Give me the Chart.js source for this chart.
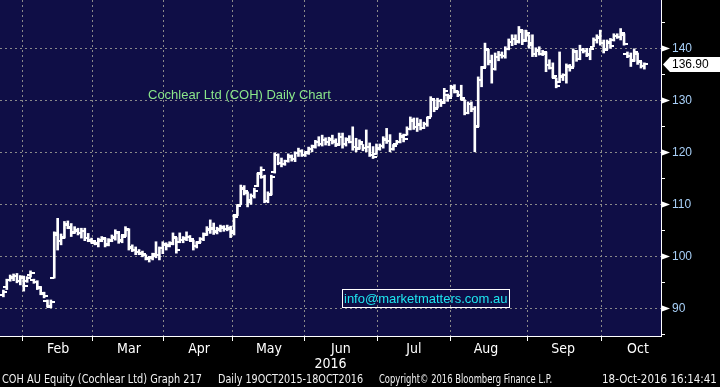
<!DOCTYPE html>
<html>
<head>
<meta charset="utf-8">
<title>Cochlear Ltd (COH) Daily Chart</title>
<script src="https://cdn.jsdelivr.net/npm/chart.js@4.4.1/dist/chart.umd.min.js"></script>
<style>
  body { margin: 0; background: #000; }
  #wrap { position: relative; width: 720px; height: 387px; overflow: hidden; font-family: "Liberation Sans", Arial, sans-serif; }
  #chart { position: absolute; left: 0; top: 0; }
  .note { position: absolute; white-space: nowrap; }
  #title { left: 148px; top: 88px; font-size: 13px; line-height: 13px; color: #8ae68a; }
  #email { left: 342px; top: 289px; width: 165px; height: 17px; border: 1px solid #fff; font-size: 13px; line-height: 17px; color: #1ee6f0; padding-left: 1px; }
  #footer span { position: absolute; top: 372px; font-family: "Liberation Sans Narrow", "DejaVu Sans Condensed", "Liberation Sans", sans-serif; font-size: 13px; line-height: 14px; color: #f2f2f2; white-space: nowrap; transform-origin: 0 50%; }
</style>
</head>
<body>
<div id="wrap">
  <canvas id="chart" width="720" height="387"></canvas>
  <div class="note" id="title">Cochlear Ltd (COH) Daily Chart</div>
  <div class="note" id="email">info@marketmatters.com.au</div>
  <div id="footer">
    <span style="left:2px" data-w="200">COH AU Equity (Cochlear Ltd) Graph 217</span>
    <span style="left:218px" data-w="145">Daily 19OCT2015-18OCT2016</span>
    <span style="left:379px" data-w="173">Copyright© 2016 Bloomberg Finance L.P.</span>
    <span style="left:602px" data-w="115">18-Oct-2016 16:14:41</span>
  </div>
</div>
<script>
// daily OHLC, one entry per trading day (late Jan 2016 - 18 Oct 2016)
const opens = [
  92.6, 94.0, 95.5, 95.8, 96.3, 95.2, 95.9, 95.2, 96.4, 95.5,
  95.0, 93.9, 92.8, 91.4, 90.3, 95.8, 104.0, 103.0, 103.8, 106.2,
  105.4, 104.6, 104.9, 104.5, 104.9, 103.6, 103.0, 102.6, 102.5, 103.0,
  103.3, 102.3, 103.0, 103.6, 104.5, 103.2, 104.0, 105.0, 101.8, 101.3,
  100.8, 100.6, 100.2, 99.5, 99.8, 100.1, 100.3, 101.5, 102.2, 102.1,
  102.5, 103.5, 102.7, 103.2, 103.4, 103.8, 102.9, 102.0, 102.8, 103.4,
  104.2, 105.0, 105.3, 104.8, 105.1, 105.5, 105.2, 105.3, 104.5, 108.0,
  109.9, 113.2, 112.2, 110.5, 111.5, 113.5, 116.0, 115.2, 110.6, 112.0,
  116.3, 119.5, 118.0, 117.8, 118.3, 119.0, 118.8, 119.8, 120.2, 119.5,
  120.0, 120.7, 121.0, 122.0, 121.5, 122.4, 122.0, 122.4, 122.0, 121.5,
  123.0, 121.6, 122.4, 122.0, 121.0, 120.8, 121.5, 120.8, 121.0, 119.5,
  119.6, 120.8, 121.2, 122.4, 122.2, 120.6, 121.6, 121.9, 123.0, 123.4,
  124.5, 126.0, 124.8, 125.3, 124.7, 125.4, 126.8, 130.0, 128.6, 129.8,
  129.6, 131.0, 130.8, 132.4, 131.6, 131.0, 130.1, 127.6, 129.2, 128.4,
  125.0, 134.0, 136.5, 139.6, 137.5, 136.0, 138.4, 138.8, 138.6, 139.8,
  141.2, 141.8, 141.4, 143.2, 141.6, 142.6, 141.0, 139.0, 139.5, 139.0,
  139.0, 136.8, 136.2, 134.3, 133.6, 134.4, 134.8, 136.4, 136.4, 139.2,
  138.0, 139.6, 139.4, 139.0, 140.3, 141.6, 142.0, 141.0, 139.8, 141.0,
  141.6, 142.3, 142.2, 142.6, 139.0, 138.5, 137.8, 139.0, 137.4, 136.6
];
const highs = [
  93.5, 95.6, 96.4, 96.6, 96.7, 96.3, 96.2, 96.1, 97.2, 95.6,
  95.3, 94.2, 93.1, 91.6, 91.6, 104.7, 107.3, 104.3, 106.7, 106.8,
  106.3, 105.7, 105.4, 105.4, 105.4, 104.4, 103.5, 102.8, 103.5, 103.8,
  103.5, 103.4, 104.1, 105.1, 104.8, 104.0, 105.7, 105.3, 102.2, 101.8,
  101.3, 101.0, 100.3, 100.0, 100.6, 102.8, 101.8, 102.8, 102.6, 102.8,
  104.5, 103.6, 104.5, 103.8, 104.7, 104.0, 103.1, 102.8, 103.6, 104.5,
  105.7, 107.0, 106.4, 105.6, 106.0, 105.9, 106.0, 105.8, 108.0, 109.9,
  113.7, 113.6, 112.4, 112.0, 113.1, 116.0, 117.2, 115.6, 112.4, 115.6,
  119.9, 119.7, 118.9, 118.5, 119.7, 119.5, 120.1, 120.8, 120.5, 120.1,
  121.0, 121.4, 122.3, 123.0, 123.3, 122.8, 122.9, 123.3, 122.6, 123.7,
  123.7, 122.8, 123.2, 124.9, 122.7, 122.4, 121.5, 124.3, 121.8, 121.1,
  121.6, 121.6, 123.0, 124.6, 123.4, 121.5, 122.3, 123.7, 123.5, 124.9,
  126.8, 126.6, 126.6, 126.3, 125.8, 126.8, 130.7, 130.1, 130.4, 130.2,
  132.3, 131.2, 132.9, 133.0, 131.8, 132.9, 130.1, 129.7, 129.7, 128.8,
  134.5, 136.5, 141.0, 139.8, 138.7, 139.1, 139.4, 139.3, 140.3, 141.8,
  142.6, 142.6, 144.2, 143.5, 143.5, 142.6, 142.6, 140.1, 140.3, 139.6,
  139.3, 137.8, 137.2, 134.3, 139.3, 135.1, 137.0, 136.9, 139.9, 139.6,
  140.6, 140.0, 140.0, 140.0, 142.0, 142.6, 143.5, 141.6, 141.6, 141.9,
  142.8, 142.8, 143.8, 142.8, 139.3, 139.1, 139.9, 139.1, 137.4, 137.2
];
const lows = [
  92.2, 93.6, 95.2, 95.3, 94.9, 94.5, 93.3, 95.0, 96.0, 94.8,
  93.6, 92.6, 92.0, 90.2, 90.1, 95.8, 101.2, 102.2, 103.5, 105.3,
  103.8, 104.4, 104.1, 103.5, 103.0, 102.8, 102.5, 102.2, 101.8, 102.8,
  101.8, 102.0, 102.8, 103.1, 102.5, 102.6, 103.8, 101.2, 100.9, 100.3,
  100.3, 99.9, 99.3, 98.9, 99.3, 99.7, 99.3, 100.5, 101.2, 101.8,
  102.2, 100.6, 102.6, 102.6, 103.0, 103.0, 101.2, 101.6, 102.6, 103.0,
  104.0, 104.4, 104.2, 104.3, 104.7, 104.8, 104.9, 103.6, 104.1, 107.8,
  109.9, 111.8, 109.5, 110.0, 111.2, 113.4, 115.0, 110.3, 110.3, 111.8,
  116.0, 117.6, 117.2, 117.5, 118.1, 118.3, 118.2, 119.2, 119.2, 119.2,
  119.6, 120.1, 120.8, 121.2, 121.2, 121.4, 121.3, 121.6, 121.1, 121.4,
  120.8, 121.2, 121.8, 120.4, 120.1, 120.6, 120.3, 120.1, 119.2, 118.8,
  119.6, 120.4, 120.8, 121.7, 120.1, 120.4, 121.5, 121.8, 122.0, 123.3,
  124.3, 124.4, 124.0, 124.3, 124.6, 125.0, 126.8, 127.8, 128.5, 128.8,
  129.4, 129.8, 130.7, 131.4, 130.7, 130.1, 127.2, 127.4, 127.8, 120.1,
  124.9, 132.6, 136.3, 136.8, 133.3, 135.8, 137.6, 138.1, 138.1, 139.7,
  140.5, 140.7, 141.0, 140.7, 141.3, 140.0, 138.4, 138.4, 138.7, 138.6,
  135.5, 136.0, 134.3, 132.4, 133.4, 133.8, 133.3, 135.6, 136.4, 137.5,
  137.8, 139.1, 138.4, 137.8, 140.3, 141.0, 140.6, 139.1, 139.8, 140.0,
  141.4, 141.9, 141.6, 140.6, 138.2, 136.5, 137.5, 136.9, 136.2, 136.0
];
const closes = [
  93.2, 95.4, 96.1, 96.2, 95.3, 96.0, 94.3, 95.8, 96.8, 95.0,
  94.0, 92.9, 92.3, 90.4, 91.2, 104.4, 102.9, 103.6, 106.0, 105.6,
  104.4, 105.0, 104.5, 104.8, 103.5, 103.2, 102.9, 102.4, 103.1, 103.5,
  102.2, 103.2, 103.8, 104.6, 103.0, 103.8, 105.2, 101.6, 101.2, 100.8,
  100.5, 100.4, 99.6, 99.7, 100.4, 100.2, 101.5, 102.3, 102.0, 102.4,
  103.8, 101.2, 103.2, 103.6, 103.8, 103.4, 101.9, 102.5, 103.3, 104.0,
  105.2, 105.5, 104.7, 105.2, 105.6, 105.2, 105.4, 104.8, 107.6, 109.6,
  113.0, 112.6, 110.8, 111.6, 112.6, 115.8, 116.5, 110.6, 111.8, 115.2,
  119.4, 118.0, 117.8, 118.3, 119.2, 118.7, 119.8, 120.2, 119.5, 119.9,
  120.7, 121.2, 122.0, 121.6, 122.4, 122.0, 122.5, 122.1, 121.4, 123.0,
  121.5, 122.5, 122.0, 121.0, 120.6, 122.0, 120.8, 121.0, 119.5, 119.0,
  120.6, 121.2, 122.5, 122.2, 120.6, 121.2, 122.0, 123.2, 122.6, 124.5,
  126.2, 124.8, 125.4, 124.7, 125.5, 126.5, 130.2, 128.4, 129.8, 129.5,
  131.8, 130.4, 132.5, 131.8, 131.0, 130.4, 127.6, 129.2, 128.4, 124.9,
  134.0, 136.2, 139.8, 137.4, 136.0, 138.4, 138.8, 138.6, 139.8, 141.3,
  141.8, 141.2, 143.5, 141.4, 143.0, 140.6, 139.0, 139.6, 139.0, 139.2,
  136.8, 136.3, 134.6, 132.8, 134.6, 134.8, 136.6, 136.2, 139.4, 138.0,
  139.7, 139.4, 138.8, 139.8, 141.6, 142.2, 141.0, 139.6, 141.3, 140.4,
  142.4, 142.2, 142.9, 140.9, 138.5, 137.6, 139.2, 137.5, 136.6, 136.9
];

// month boundaries in bar-index units, and the names shown after each one
const monthStarts = [5.5, 26.4, 47.1, 67.7, 88.9, 110.4, 131.7, 154.4, 176.5];
const monthNames = ['Feb', 'Mar', 'Apr', 'May', 'Jun', 'Jul', 'Aug', 'Sep', 'Oct'];
const priceTicks = [85, 90, 95, 100, 105, 110, 115, 120, 125, 130, 135, 140, 145];

const NAVY = '#0f0e46';
const GRID = '#8a8a8a';
const narrow = '"Liberation Sans Narrow", "DejaVu Sans Condensed", "Liberation Sans", sans-serif';

// squeeze the footer strings into the widths they take in the original
document.querySelectorAll('#footer span').forEach(s => {
    const w = s.getBoundingClientRect().width;
    const target = +s.dataset.w;
    if (w > 0) s.style.transform = 'scaleX(' + (target / w).toFixed(3) + ')';
});

// small open/close tick images, centred on the bar: left half or right half filled
function tickImage(side) {
    const c = document.createElement('canvas');
    c.width = 8;
    c.height = 2;
    const g = c.getContext('2d');
    g.fillStyle = '#fff';
    g.fillRect(side === 'left' ? 0 : 4, 0, 4, 2);
    return c;
}

const plotBackground = {
    id: 'plotBackground',
    beforeDraw(chart) {
        const {ctx, chartArea: a} = chart;
        ctx.save();
        ctx.fillStyle = NAVY;
        ctx.fillRect(a.left, a.top, a.right - a.left, a.bottom - a.top);
        ctx.restore();
    }
};

// arrow heads on the major price ticks plus the last-price tag
const axisMarks = {
    id: 'axisMarks',
    afterDraw(chart) {
        const {ctx, chartArea: a, scales: {y}} = chart;
        ctx.save();
        ctx.fillStyle = '#fff';
        priceTicks.filter(v => v % 10 === 0).forEach(v => {
            const py = Math.round(y.getPixelForValue(v)) + 0.5;
            ctx.beginPath();
            ctx.moveTo(a.right + 1, py - 3);
            ctx.lineTo(a.right + 9, py);
            ctx.lineTo(a.right + 1, py + 3);
            ctx.closePath();
            ctx.fill();
        });

        const last = closes[closes.length - 1];
        const py = y.getPixelForValue(last);
        ctx.beginPath();
        ctx.moveTo(a.right + 2, py);
        ctx.lineTo(a.right + 9, py - 7.5);
        ctx.lineTo(720, py - 7.5);
        ctx.lineTo(720, py + 7.5);
        ctx.lineTo(a.right + 9, py + 7.5);
        ctx.closePath();
        ctx.fill();
        ctx.fillStyle = '#000';
        ctx.font = '12px "Liberation Sans", Arial, sans-serif';
        ctx.textBaseline = 'middle';
        ctx.fillText(last.toFixed(2), a.right + 11, py + 0.5);
        ctx.restore();
    }
};

const chart = new Chart(document.getElementById('chart'), {
    type: 'bar',
    data: {
        datasets: [
            {
                type: 'bar',
                data: lows.map((l, i) => ({x: i, y: [l, highs[i]]})),
                backgroundColor: '#fff',
                borderWidth: 0,
                barThickness: 2,
                grouped: false
            },
            {
                type: 'scatter',
                data: opens.map((o, i) => ({x: i, y: o})),
                pointStyle: tickImage('left'),
                pointRadius: 3
            },
            {
                type: 'scatter',
                data: closes.map((c, i) => ({x: i, y: c})),
                pointStyle: tickImage('right'),
                pointRadius: 3
            }
        ]
    },
    options: {
        responsive: false,
        devicePixelRatio: 1,
        animation: false,
        events: [],
        layout: { padding: 0, autoPadding: false },
        plugins: {
            legend: { display: false },
            tooltip: { enabled: false }
        },
        scales: {
            x: {
                type: 'linear',
                position: 'bottom',
                min: -1,
                max: 193.9,
                offset: false,
                afterBuildTicks: s => { s.ticks = monthStarts.map(v => ({value: v})); },
                afterFit: s => {
                    s.height = 51;
                    s.paddingLeft = 0;
                    s.paddingRight = 0;
                },
                grid: {
                    offset: false,
                    color: GRID,
                    tickColor: '#fff',
                    tickLength: 5
                },
                border: { display: true, color: '#fff', width: 1, dash: [2, 3] },
                ticks: {
                    autoSkip: false,
                    maxRotation: 0,
                    padding: 0,
                    labelOffset: 36,
                    color: '#fff',
                    font: { family: narrow, size: 14 },
                    callback: (v, i) => monthNames[i]
                },
                title: {
                    display: true,
                    text: '2016',
                    color: '#fff',
                    font: { family: narrow, size: 14 },
                    padding: { top: 0, bottom: 14 }
                }
            },
            y: {
                type: 'linear',
                position: 'right',
                min: 84.67,
                max: 149.29,
                beginAtZero: false,
                afterBuildTicks: s => { s.ticks = priceTicks.map(v => ({value: v})); },
                afterFit: s => {
                    s.width = 59;
                    s.paddingTop = 0;
                    s.paddingBottom = 0;
                },
                grid: {
                    color: c => (c.tick && c.tick.value % 10 === 0) ? GRID : 'rgba(0,0,0,0)',
                    tickColor: c => (c.tick && c.tick.value % 10 === 0) ? 'rgba(0,0,0,0)' : '#fff',
                    tickLength: 4
                },
                border: { display: true, color: '#fff', width: 1, dash: [2, 3] },
                ticks: {
                    padding: 7,
                    color: '#a8d0f8',
                    font: { family: '"Liberation Sans", Arial, sans-serif', size: 12 },
                    callback: v => (v % 10 === 0 ? String(v) : '')
                }
            }
        }
    },
    plugins: [plotBackground, axisMarks]
});
</script>
</body>
</html>
